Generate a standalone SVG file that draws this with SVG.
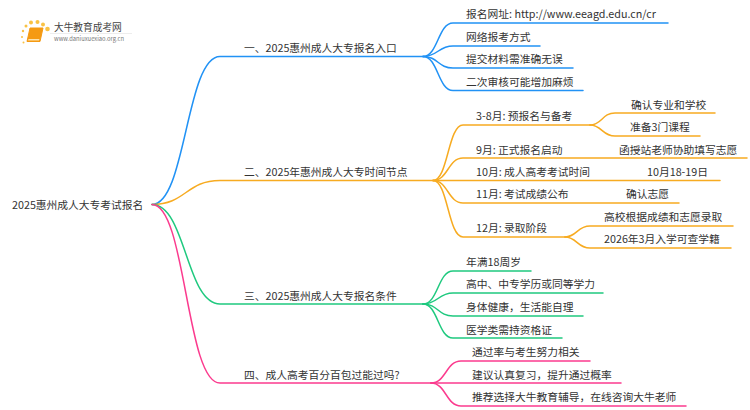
<svg xmlns="http://www.w3.org/2000/svg" width="750" height="410" viewBox="0 0 750 410">
<style>
text{font-family:"Noto Sans CJK SC","Noto Sans",sans-serif;font-size:10.75px;fill:#333}
.c{fill:none;stroke-width:1.5;stroke-linecap:round}
.b{stroke:#2192f5}.o{stroke:#f7ab21}.g{stroke:#1fc97f}.p{stroke:#fb3b8e}
</style>
<rect width="750" height="410" fill="#fff"/>
<g id="logo">
<g fill="#f9c244"><circle cx="23" cy="31" r="1.200"/><circle cx="22" cy="37" r="1"/><circle cx="26" cy="26" r="1.500"/><circle cx="31" cy="22.500" r="2"/><circle cx="37.500" cy="22" r="2"/><circle cx="43" cy="24.500" r="2"/><circle cx="47.500" cy="29" r="2.300"/><circle cx="23.500" cy="42.500" r="1"/></g>
<path d="M30 28h13l-3 13.500H27z" fill="#f59a12" stroke="#f59a12" stroke-linejoin="round"/><path d="M28 40.500h11l.5 -1.500h-11z" fill="#fde3ae"/>
<text x="54" y="31" style="font-size:9.700px;fill:#444">大牛教育成考网</text>
<text x="54" y="41" style="font-size:5.800px;fill:#777">www.daniuxuexiao.org.cn</text>
<path d="M50 33.500h82" stroke="#e8e8e8" stroke-width="0.800"/>
</g>
<g id="connectors">
<path class="c b" d="M152 204.500C186 204.500 186 56.500 220 56.500H423"/>
<path class="c o" d="M152 204.500C186 204.500 186 180.500 220 180.500H433"/>
<path class="c g" d="M152 204.500C186 204.500 186 304 220 304H423"/>
<path class="c p" d="M152 204.500C186 204.500 186 383 220 383H431"/>
<path class="c b" d="M423 56.500C438 56.500 438 23 453 23H668"/>
<path class="c b" d="M423 56.500C438 56.500 438 46 453 46H540"/>
<path class="c b" d="M423 56.500C438 56.500 438 68 453 68H573"/>
<path class="c b" d="M423 56.500C438 56.500 438 90.500 453 90.500H583"/>
<path class="c o" d="M433 180.500C448 180.500 448 125 463 125H590"/>
<path class="c o" d="M433 180.500C448 180.500 448 158 463 158H747"/>
<path class="c o" d="M433 180.500H720"/>
<path class="c o" d="M433 180.500C448 180.500 448 203 463 203H679"/>
<path class="c o" d="M433 180.500C448 180.500 448 237 463 237H565"/>
<path class="c o" d="M590 125C602 125 602 113 615 113H715"/>
<path class="c o" d="M590 125C602 125 602 136 615 136H700"/>
<path class="c o" d="M565 237C577 237 577 226 590 226H733"/>
<path class="c o" d="M565 237C577 237 577 248 590 248H731"/>
<path class="c g" d="M423 304C438 304 438 271 453 271H531"/>
<path class="c g" d="M423 304C438 304 438 293 453 293H603"/>
<path class="c g" d="M423 304C438 304 438 316 453 316H583"/>
<path class="c g" d="M423 304C438 304 438 338 453 338H562"/>
<path class="c p" d="M431 383C446 383 446 361 461 361H590"/>
<path class="c p" d="M431 383H621"/>
<path class="c p" d="M431 383C446 383 446 406 461 406H686"/>
</g>
<g id="root"><text x="12" y="209">2025惠州成人大专考试报名</text></g>
<g id="n1"><text x="244" y="52">一、2025惠州成人大专报名入口</text></g>
<g id="n2"><text x="244" y="176">二、2025年惠州成人大专时间节点</text></g>
<g id="n3"><text x="244" y="300">三、2025惠州成人大专报名条件</text></g>
<g id="n4"><text x="244" y="379">四、成人高考百分百包过能过吗?</text></g>
<g id="n1a"><text x="466" y="18">报名网址: http://www.eeagd.edu.cn/cr</text></g>
<g id="n1b"><text x="466" y="41">网络报考方式</text></g>
<g id="n1c"><text x="466" y="63">提交材料需准确无误</text></g>
<g id="n1d"><text x="466" y="86">二次审核可能增加麻烦</text></g>
<g id="n2a"><text x="476" y="120">3-8月: 预报名与备考</text></g>
<g id="n2a1"><text x="631" y="109">确认专业和学校</text></g>
<g id="n2a2"><text x="630" y="131">准备3门课程</text></g>
<g id="n2b"><text x="476" y="154">9月: 正式报名启动</text></g>
<g id="n2b1"><text x="619" y="154">函授站老师协助填写志愿</text></g>
<g id="n2c"><text x="476" y="176">10月: 成人高考考试时间</text></g>
<g id="n2c1"><text x="647" y="176">10月18-19日</text></g>
<g id="n2d"><text x="476" y="198">11月: 考试成绩公布</text></g>
<g id="n2d1"><text x="626" y="198">确认志愿</text></g>
<g id="n2e"><text x="476" y="232">12月: 录取阶段</text></g>
<g id="n2e1"><text x="604" y="221">高校根据成绩和志愿录取</text></g>
<g id="n2e2"><text x="604" y="243">2026年3月入学可查学籍</text></g>
<g id="n3a"><text x="466" y="266">年满18周岁</text></g>
<g id="n3b"><text x="466" y="288">高中、中专学历或同等学力</text></g>
<g id="n3c"><text x="466" y="311">身体健康，生活能自理</text></g>
<g id="n3d"><text x="466" y="334">医学类需持资格证</text></g>
<g id="n4a"><text x="472" y="356">通过率与考生努力相关</text></g>
<g id="n4b"><text x="472" y="379">建议认真复习，提升通过概率</text></g>
<g id="n4c"><text x="472" y="401">推荐选择大牛教育辅导，在线咨询大牛老师</text></g>
</svg>
